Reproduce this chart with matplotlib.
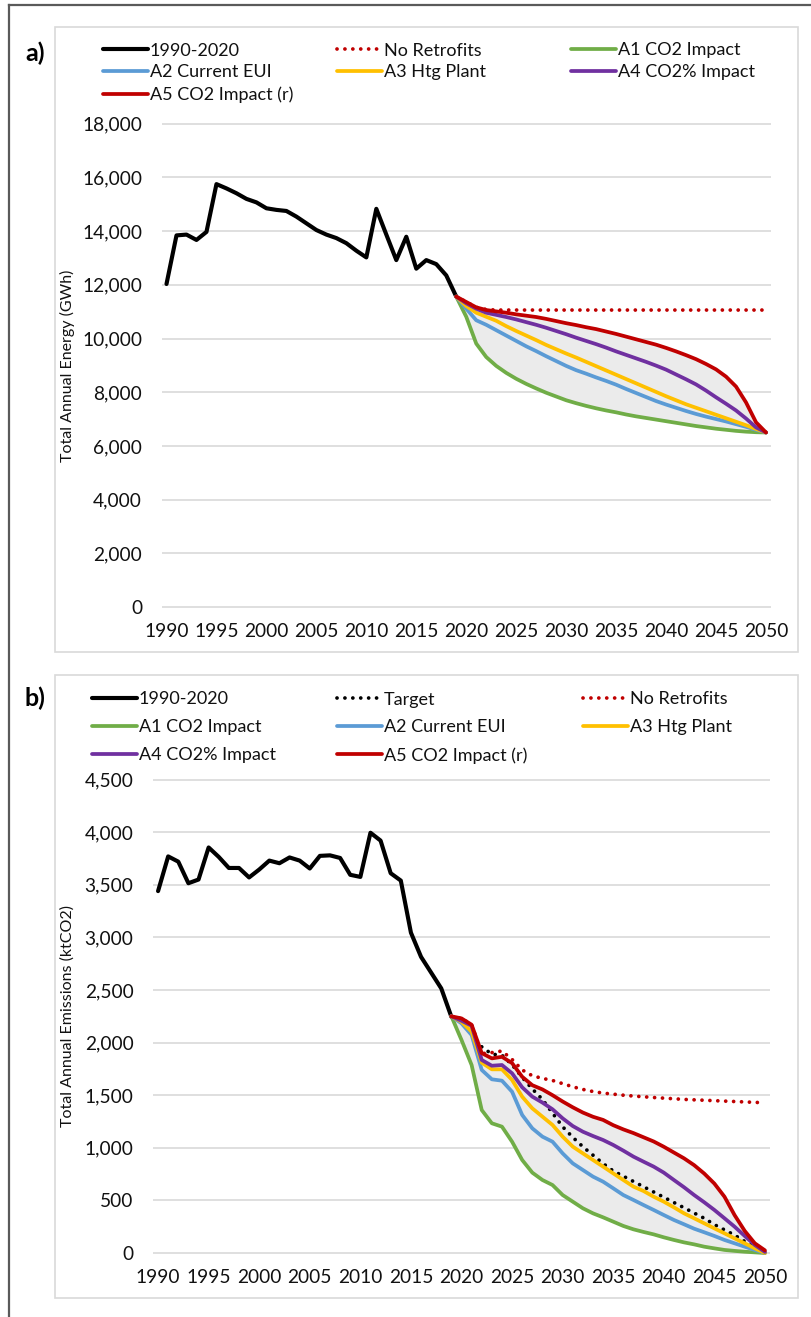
import matplotlib
matplotlib.use("Agg")
import matplotlib.pyplot as plt
from matplotlib.lines import Line2D
from matplotlib.patches import Rectangle
from matplotlib.ticker import FuncFormatter, MultipleLocator

plt.rcParams["font.family"] = ["Lato", "DejaVu Sans"]

# ---------------- data ----------------
hist_years = list(range(1990, 2020))
scen_years = list(range(2019, 2051))
target_years = list(range(2022, 2051))

# a) total annual energy (GWh)
energy_hist = [12030, 13840, 13870, 13670, 13970, 15750, 15590, 15410, 15200, 15070,
               14850, 14790, 14750, 14540, 14290, 14040, 13870, 13740, 13550, 13270,
               13020, 14830, 13870, 12920, 13790, 12600, 12920, 12770, 12350, 11560]
energy_no_retrofits = [11560, 11360, 11160, 11080, 11060, 11060, 11060, 11060, 11060, 11060,
                       11060, 11060, 11060, 11060, 11060, 11060, 11060, 11060, 11060, 11060,
                       11060, 11060, 11060, 11060, 11060, 11060, 11060, 11060, 11060, 11060,
                       11060, 11060]
energy_a1 = [11560, 10810, 9810, 9310, 8980, 8720, 8500, 8310, 8140, 7980,
             7840, 7700, 7590, 7490, 7400, 7320, 7250, 7170, 7100, 7040,
             6980, 6920, 6860, 6800, 6740, 6690, 6640, 6600, 6560, 6530,
             6510, 6500]
energy_a2 = [11560, 11110, 10680, 10510, 10310, 10110, 9910, 9710, 9530, 9340,
             9160, 8980, 8820, 8690, 8550, 8420, 8280, 8120, 7970, 7820,
             7670, 7540, 7420, 7300, 7190, 7090, 7000, 6910, 6810, 6710,
             6600, 6500]
energy_a3 = [11560, 11210, 10960, 10810, 10660, 10460, 10280, 10110, 9940, 9760,
             9600, 9440, 9290, 9130, 8970, 8810, 8650, 8490, 8330, 8170,
             8010, 7850, 7700, 7550, 7420, 7290, 7160, 7030, 6900, 6770,
             6630, 6500]
energy_a4 = [11560, 11310, 11110, 10960, 10880, 10800, 10710, 10610, 10510, 10400,
             10280, 10160, 10030, 9910, 9790, 9660, 9520, 9390, 9260, 9130,
             8990, 8840, 8660, 8480, 8290, 8060, 7810, 7570, 7320, 7020,
             6690, 6500]
energy_a5 = [11560, 11360, 11160, 11060, 11010, 10960, 10900, 10850, 10800, 10730,
             10650, 10570, 10500, 10420, 10350, 10260, 10170, 10070, 9970, 9870,
             9770, 9650, 9520, 9380, 9230, 9050, 8850, 8580, 8210, 7620,
             6880, 6500]

# b) total annual emissions (ktCO2)
emis_hist = [3440, 3770, 3720, 3515, 3550, 3855, 3765, 3660, 3660, 3570,
             3645, 3730, 3705, 3760, 3730, 3655, 3775, 3780, 3755, 3595,
             3575, 3995, 3920, 3610, 3540, 3045, 2815, 2665, 2515, 2245]
emis_target = [1960, 1890, 1880, 1790, 1670, 1560, 1460, 1330, 1200, 1100,
               1010, 930, 850, 780, 730, 680, 630, 580, 530, 480,
               430, 380, 330, 270, 220, 170, 110, 60, 0]
emis_no_retrofits = [2250, 2230, 2170, 1895, 1905, 1920, 1840, 1740, 1685, 1660,
                     1640, 1610, 1580, 1555, 1535, 1520, 1510, 1500, 1492, 1485,
                     1478, 1472, 1466, 1460, 1456, 1452, 1448, 1444, 1440, 1436,
                     1432, 1428]
emis_a1 = [2250, 2025, 1787, 1359, 1233, 1201, 1058, 884, 764, 694,
           646, 551, 488, 425, 377, 339, 298, 257, 225, 200,
           177, 149, 124, 101, 82, 60, 44, 29, 20, 12,
           6, 0]
emis_a2 = [2250, 2183, 2072, 1740, 1651, 1638, 1533, 1312, 1185, 1106,
           1058, 947, 852, 789, 726, 678, 615, 551, 504, 456,
           409, 361, 314, 273, 231, 197, 162, 124, 92, 60,
           29, 0]
emis_a3 = [2250, 2198, 2104, 1809, 1746, 1746, 1645, 1486, 1375, 1296,
           1217, 1106, 1011, 947, 884, 821, 757, 694, 631, 589,
           535, 488, 434, 377, 330, 282, 234, 187, 139, 92,
           44, 0]
emis_a4 = [2250, 2208, 2160, 1835, 1780, 1787, 1708, 1575, 1486, 1430,
           1366, 1280, 1207, 1153, 1112, 1074, 1027, 973, 916, 868,
           821, 764, 694, 625, 551, 482, 409, 330, 250, 162,
           76, 10]
emis_a5 = [2250, 2230, 2170, 1900, 1850, 1865, 1805, 1675, 1595, 1555,
           1500, 1440, 1385, 1335, 1295, 1265, 1215, 1175, 1140, 1100,
           1060, 1010, 955, 900, 835, 755, 660, 535, 360, 210,
           92, 25]

# ---------------- styling ----------------
C_BLACK = "#000000"
C_RED = "#C00000"
C_GREEN = "#70AD47"
C_BLUE = "#5B9BD5"
C_YELLOW = "#FFC000"
C_PURPLE = "#7030A0"
C_FILL = "#EBEBEB"
C_GRID = "#D9D9D9"
C_TEXT = "#111111"

W, H = 811, 1317
fig = plt.figure(figsize=(W / 100, H / 100), dpi=100)
fig.patch.set_facecolor("white")


def fx(px):
    return px / W


def fy(py):
    return 1 - py / H


# outer frame (left and top edges)
fig.add_artist(Line2D([fx(9), fx(9)], [fy(5), 0], transform=fig.transFigure,
                      color="#5a5a5a", lw=1.6))
fig.add_artist(Line2D([fx(9), 1], [fy(5), fy(5)], transform=fig.transFigure,
                      color="#5a5a5a", lw=1.6))

# chart-area boxes
for top, bottom in [(27, 652), (675, 1298)]:
    fig.add_artist(Rectangle((fx(55), fy(bottom)), fx(798) - fx(55), fy(top) - fy(bottom),
                             transform=fig.transFigure, fill=False,
                             edgecolor=C_GRID, lw=1.2))

fig.text(fx(35), fy(53), "a)", fontsize=18, fontweight="bold", ha="center", va="center",
         color=C_BLACK)
fig.text(fx(35), fy(698), "b)", fontsize=18, fontweight="bold", ha="center", va="center",
         color=C_BLACK)

LW = 2.7
DOT = (0, (0.01, 2.1))


def make_axes(left, right, y_zero, y_top, vmax, step, ylabel, label_x):
    pad_px = 5
    unit_px = (y_zero - y_top) / vmax
    ax = fig.add_axes([fx(left), fy(y_zero + pad_px), fx(right) - fx(left),
                       fy(y_top - pad_px) - fy(y_zero + pad_px)])
    ax.set_xlim(1989.5, 2050.5)
    ax.set_ylim(-pad_px / unit_px, vmax + pad_px / unit_px)
    for s in ax.spines.values():
        s.set_visible(False)
    ax.yaxis.set_major_locator(MultipleLocator(step))
    ax.xaxis.set_major_locator(MultipleLocator(5))
    ax.yaxis.set_major_formatter(FuncFormatter(lambda v, p: f"{int(round(v)):,}"))
    ax.grid(axis="y", color=C_GRID, lw=1.2, zorder=0)
    ax.set_axisbelow(True)
    ax.tick_params(axis="both", length=0, labelsize=13.8, colors=C_TEXT)
    ax.tick_params(axis="y", pad=14)
    ax.tick_params(axis="x", pad=8)
    ax.set_ylabel(ylabel, fontsize=11.5, color=C_TEXT)
    ax.yaxis.set_label_coords((label_x - left) / (right - left), 0.5)
    return ax


def draw_lines(ax, series):
    handles = {}
    for key, (xs, ys, color, style) in series.items():
        if style == "dot":
            (ln,) = ax.plot(xs, ys, color=color, lw=LW, linestyle=DOT,
                            dash_capstyle="round", zorder=4)
        else:
            (ln,) = ax.plot(xs, ys, color=color, lw=LW if color != C_BLACK else LW * 1.1,
                            solid_capstyle="round", solid_joinstyle="round", zorder=4)
        handles[key] = ln
    return handles


def column_legends(handles, columns, rows_y, col_x, spacing):
    for x0, keys in zip(col_x, columns):
        fig.legend([handles[k] for k in keys], keys, loc="upper left",
                   bbox_to_anchor=(fx(x0), fy(rows_y)), bbox_transform=fig.transFigure,
                   frameon=False, borderpad=0, borderaxespad=0, handlelength=2.5,
                   handletextpad=0.1, labelspacing=spacing, fontsize=13,
                   labelcolor=C_TEXT)


# ---------------- a) energy ----------------
ax1 = make_axes(161.5, 771, 607, 123.7, 18000, 2000, "Total Annual Energy (GWh)", 75)
ax1.fill_between(scen_years, energy_a1, energy_a5, color=C_FILL, lw=0, zorder=1)
h1 = draw_lines(ax1, {
    "1990-2020": (hist_years, energy_hist, C_BLACK, "solid"),
    "No Retrofits": (scen_years, energy_no_retrofits, C_RED, "dot"),
    "A1 CO2 Impact": (scen_years, energy_a1, C_GREEN, "solid"),
    "A2 Current EUI": (scen_years, energy_a2, C_BLUE, "solid"),
    "A3 Htg Plant": (scen_years, energy_a3, C_YELLOW, "solid"),
    "A4 CO2% Impact": (scen_years, energy_a4, C_PURPLE, "solid"),
    "A5 CO2 Impact (r)": (scen_years, energy_a5, C_RED, "solid"),
})
column_legends(h1, [["1990-2020", "A2 Current EUI", "A5 CO2 Impact (r)"],
                    ["No Retrofits", "A3 Htg Plant"],
                    ["A1 CO2 Impact", "A4 CO2% Impact"]],
               42.5, [103, 337, 571], 0.33)

# ---------------- b) emissions ----------------
ax2 = make_axes(153, 770, 1253, 779.6, 4500, 500, "Total Annual Emissions (ktCO2)", 75)
ax2.fill_between(scen_years, emis_a1, emis_a5, color=C_FILL, lw=0, zorder=1)
h2 = draw_lines(ax2, {
    "1990-2020": (hist_years, emis_hist, C_BLACK, "solid"),
    "Target": (target_years, emis_target, C_BLACK, "dot"),
    "No Retrofits": (scen_years, emis_no_retrofits, C_RED, "dot"),
    "A1 CO2 Impact": (scen_years, emis_a1, C_GREEN, "solid"),
    "A2 Current EUI": (scen_years, emis_a2, C_BLUE, "solid"),
    "A3 Htg Plant": (scen_years, emis_a3, C_YELLOW, "solid"),
    "A4 CO2% Impact": (scen_years, emis_a4, C_PURPLE, "solid"),
    "A5 CO2 Impact (r)": (scen_years, emis_a5, C_RED, "solid"),
})
column_legends(h2, [["1990-2020", "A1 CO2 Impact", "A4 CO2% Impact"],
                    ["Target", "A2 Current EUI", "A5 CO2 Impact (r)"],
                    ["No Retrofits", "A3 Htg Plant"]],
               691.5, [92, 337, 583], 0.65)

fig.savefig("out.png", dpi=100, facecolor="white")
